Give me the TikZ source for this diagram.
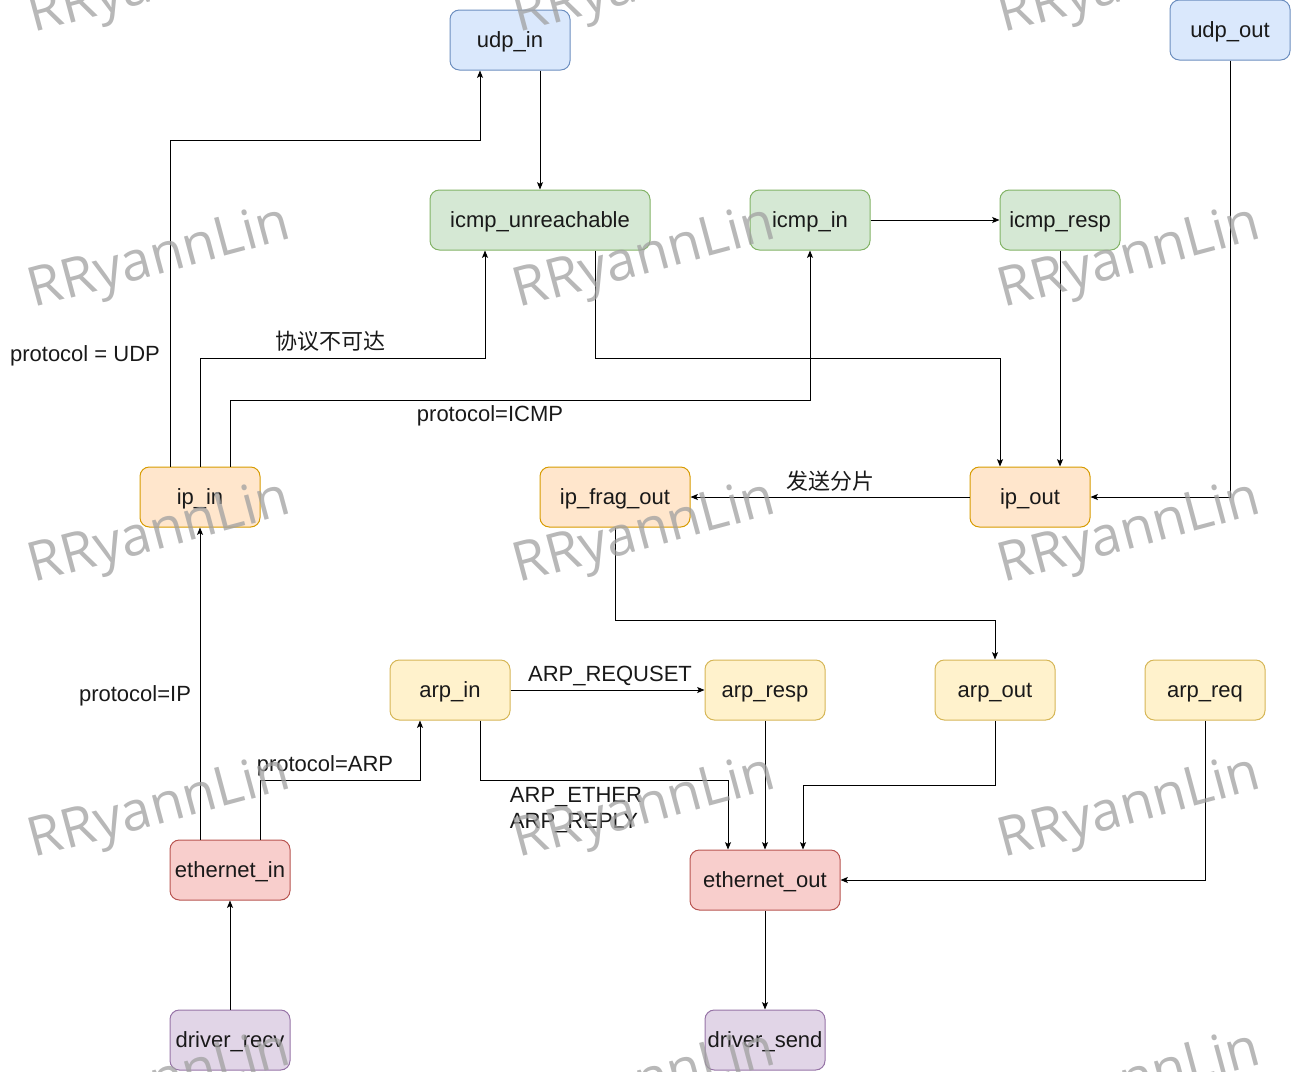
\documentclass[tikz,border=0pt]{standalone}
\usepackage{fontspec}
\setmainfont{Liberation Sans}
\newfontfamily\cjk{Noto Sans CJK SC}
\newfontfamily\wmfont{Open Sans}
\usetikzlibrary{arrows.meta,calc}
\definecolor{bluef}{HTML}{DAE8FC}\definecolor{blued}{HTML}{6C8EBF}
\definecolor{greenf}{HTML}{D5E8D4}\definecolor{greend}{HTML}{82B366}
\definecolor{orangef}{HTML}{FFE6CC}\definecolor{oranged}{HTML}{D79B00}
\definecolor{yellowf}{HTML}{FFF2CC}\definecolor{yellowd}{HTML}{D6B656}
\definecolor{redf}{HTML}{F8CECC}\definecolor{redd}{HTML}{B85450}
\definecolor{purplef}{HTML}{E1D5E7}\definecolor{purpled}{HTML}{9673A6}
\definecolor{wmgray}{HTML}{A0A0A0}
\tikzset{
  box/.style={rounded corners=7pt, line width=0.75pt, minimum width=90pt, minimum height=45pt, inner sep=0pt, text height=14pt, text depth=2.5pt, font=\fontsize{16.5}{19}\selectfont, text=black!90},
  bbox/.style={box, fill=bluef, draw=blued},
  gbox/.style={box, fill=greenf, draw=greend},
  obox/.style={box, fill=orangef, draw=oranged},
  ybox/.style={box, fill=yellowf, draw=yellowd},
  rbox/.style={box, fill=redf, draw=redd},
  pbox/.style={box, fill=purplef, draw=purpled},
  arr/.style={line width=0.75pt, -{Stealth[length=5.5pt,width=4.5pt,inset=1.2pt]}},
  lbl/.style={font=\fontsize{16.5}{19}\selectfont, inner sep=0pt, text=black!90},
  wm/.style={font=\fontsize{41}{41}\selectfont\wmfont, text=wmgray, opacity=0.75, rotate=15, inner sep=0pt}
}
\begin{document}
\begin{tikzpicture}[x=0.75pt,y=-0.75pt]
\useasboundingbox (0,0) rectangle (1291,1071);
% nodes
\node[bbox] (udpin) at (510,40) {udp\_in};
\node[bbox] (udpout) at (1230,30) {udp\_out};
\node[gbox, minimum width=165pt] (icmpun) at (540,220) {icmp\_unreachable};
\node[gbox] (icmpin) at (810,220) {icmp\_in};
\node[gbox] (icmpresp) at (1060,220) {icmp\_resp};
\node[obox] (ipin) at (200,497) {ip\_in};
\node[obox, minimum width=112.5pt] (ipfrag) at (615,497) {ip\_frag\_out};
\node[obox] (ipout) at (1030,497) {ip\_out};
\node[ybox] (arpin) at (450,690) {arp\_in};
\node[ybox] (arpresp) at (765,690) {arp\_resp};
\node[ybox] (arpout) at (995,690) {arp\_out};
\node[ybox] (arpreq) at (1205,690) {arp\_req};
\node[rbox] (ethin) at (230,870) {ethernet\_in};
\node[rbox, minimum width=112.5pt] (ethout) at (765,880) {ethernet\_out};
\node[pbox] (drvrecv) at (230,1040) {driver\_recv};
\node[pbox] (drvsend) at (765,1040) {driver\_send};
% connectors
\draw[arr] ($(ipin.north)+(-30,0)$) -- (170,140) -- (480,140) -- ($(udpin.south)+(-30,0)$);
\draw[arr] ($(udpin.south)+(30,0)$) -- ($(icmpun.north)$);
\draw[arr] (ipin.north) -- (200,358) -- (485,358) -- ($(icmpun.south)+(-55,0)$);
\draw[arr] ($(ipin.north)+(30,0)$) -- (230,400) -- (810,400) -- (icmpin.south);
\draw[arr] (icmpin.east) -- (icmpresp.west);
\draw[arr] ($(icmpun.south)+(55,0)$) -- (595,358) -- (1000,358) -- ($(ipout.north)+(-30,0)$);
\draw[arr] (icmpresp.south) -- ($(ipout.north)+(30,0)$);
\draw[arr] (udpout.south) -- (1230,497) -- (ipout.east);
\draw[arr] (ipout.west) -- (ipfrag.east);
\draw[arr] (ipfrag.south) -- (615,620) -- (995,620) -- (arpout.north);
\draw[arr] (arpin.east) -- (arpresp.west);
\draw[arr] ($(arpin.south)+(30,0)$) -- (480,780) -- (728,780) -- ($(ethout.north)+(-37,0)$);
\draw[arr] (arpresp.south) -- (ethout.north);
\draw[arr] (arpout.south) -- (995,785) -- (803,785) -- ($(ethout.north)+(38,0)$);
\draw[arr] (arpreq.south) -- (1205,880) -- (ethout.east);
\draw[arr] (ethout.south) -- (drvsend.north);
\draw[arr] (drvrecv.north) -- (ethin.south);
\draw[arr] ($(ethin.north)+(-30,0)$) -- (ipin.south);
\draw[arr] ($(ethin.north)+(30,0)$) -- (260,780) -- (420,780) -- ($(arpin.south)+(-30,0)$);
% labels
\node[lbl] (l1) at (85,356) {protocol = UDP};
\node[lbl] (l2) at (330,341) {\cjk 协议不可达};
\node[lbl] (l3) at (490,416) {protocol=ICMP};
\node[lbl] (l4) at (830,481) {\cjk 发送分片};
\node[lbl] (l5) at (610,676) {ARP\_REQUSET};
\node[lbl] (l6) at (135,696) {protocol=IP};
\node[lbl] (l7) at (325,766) {protocol=ARP};
\node[lbl, align=left, font=\fontsize{16.5}{19}\selectfont] (l8) at (576,810) {ARP\_ETHER\\ARP\_REPLY};
% watermarks
\foreach \wx in {160,645,1130}{
  \foreach \wy in {-15,260,535,810,1085}{
    \node[wm] at (\wx,\wy) {RRyannLin};
  }
}
\end{tikzpicture}
\end{document}
